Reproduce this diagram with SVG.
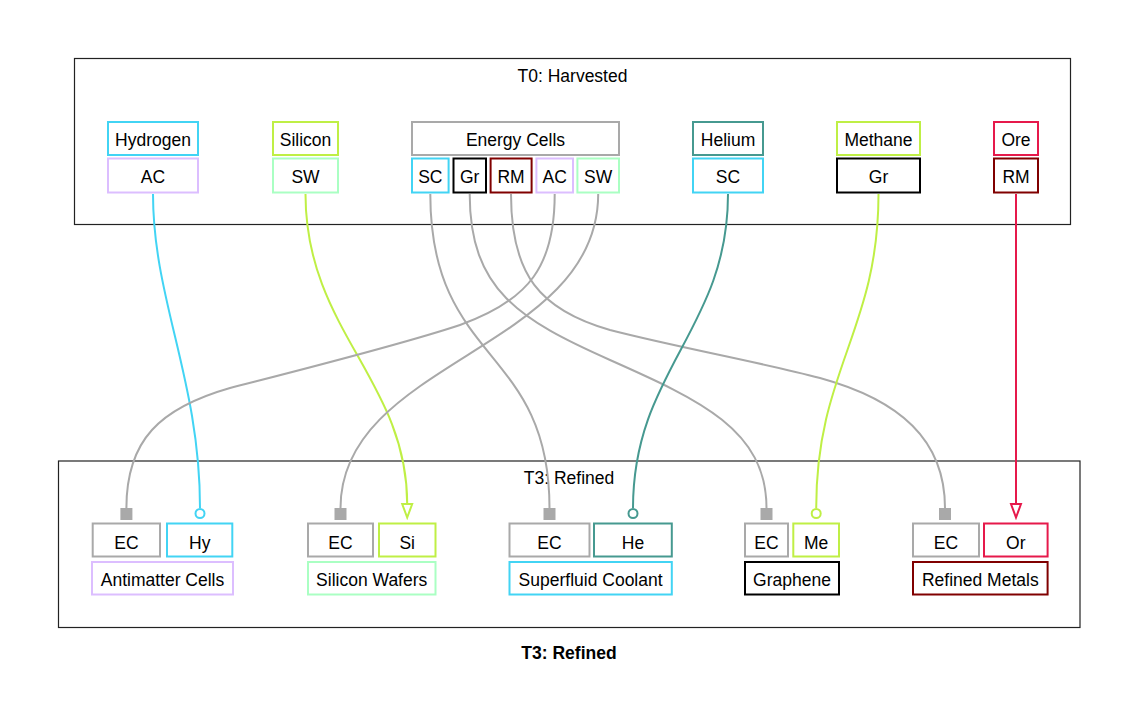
<svg xmlns="http://www.w3.org/2000/svg" width="1139" height="717" viewBox="0 0 1139 717">
<style>
text{font-family:"Liberation Sans",Arial,sans-serif;font-size:17.5px;fill:#000;text-anchor:middle}
.b{fill:#fff;stroke-width:2}
.cl{fill:none;stroke:#222;stroke-width:1.2}
.e{fill:none;stroke-width:2}
.cy{stroke:#42d4f4}.lv{stroke:#dcbeff}.lm{stroke:#bfef45}.mn{stroke:#aaffc3}.gy{stroke:#a9a9a9}.bk{stroke:#000}.mr{stroke:#800000}.tl{stroke:#469990}.rd{stroke:#e6194b}
.title{font-weight:bold}
</style>
<defs>
<marker id="sq" markerUnits="userSpaceOnUse" orient="auto" viewBox="0 -7 14 14" refX="0" refY="0" markerWidth="14" markerHeight="14"><rect x="1" y="-5" width="10" height="10" fill="#a9a9a9" stroke="#a9a9a9" stroke-width="2"/></marker>
<marker id="ci-cy" markerUnits="userSpaceOnUse" orient="auto" viewBox="0 -7 14 14" refX="0" refY="0" markerWidth="14" markerHeight="14"><circle cx="5.5" cy="0" r="4.5" fill="#fff" stroke="#42d4f4" stroke-width="2"/></marker>
<marker id="ci-tl" markerUnits="userSpaceOnUse" orient="auto" viewBox="0 -7 14 14" refX="0" refY="0" markerWidth="14" markerHeight="14"><circle cx="5.5" cy="0" r="4.5" fill="#fff" stroke="#469990" stroke-width="2"/></marker>
<marker id="ci-lm" markerUnits="userSpaceOnUse" orient="auto" viewBox="0 -7 14 14" refX="0" refY="0" markerWidth="14" markerHeight="14"><circle cx="5.5" cy="0" r="4.5" fill="#fff" stroke="#bfef45" stroke-width="2"/></marker>
<marker id="tr-lm" markerUnits="userSpaceOnUse" orient="auto" viewBox="-2 -8 18 16" refX="0" refY="0" markerWidth="18" markerHeight="16"><polygon points="0,-5 13.5,0 0,5" fill="#fff" stroke="#bfef45" stroke-width="2"/></marker>
<marker id="tr-rd" markerUnits="userSpaceOnUse" orient="auto" viewBox="-2 -8 18 16" refX="0" refY="0" markerWidth="18" markerHeight="16"><polygon points="0,-5 13.5,0 0,5" fill="#fff" stroke="#e6194b" stroke-width="2"/></marker>
</defs>
<rect width="1139" height="717" fill="#fff"/>

<g id="cluster-t0">
<rect class="cl" x="74.5" y="58.5" width="996" height="166"/>
<text x="572.5" y="81.5">T0: Harvested</text>
</g>
<g id="cluster-t3">
<rect class="cl" x="58.5" y="461" width="1021.5" height="166.5"/>
<text x="569" y="484">T3: Refined</text>
</g>

<g id="node-hydrogen">
<rect class="b cy" x="108" y="122" width="90" height="33"/><text x="153" y="146">Hydrogen</text>
<rect class="b lv" x="108" y="158.5" width="90" height="34"/><text x="153" y="182.5">AC</text>
</g>
<g id="node-silicon">
<rect class="b lm" x="273" y="122" width="65" height="33"/><text x="305.5" y="146">Silicon</text>
<rect class="b mn" x="273" y="158.5" width="65" height="34"/><text x="305.5" y="182.5">SW</text>
</g>
<g id="node-energy-cells">
<rect class="b gy" x="412" y="122" width="207" height="33"/><text x="515.5" y="146">Energy Cells</text>
<rect class="b cy" x="412" y="158.5" width="36.6" height="34"/><text x="430.3" y="182.5">SC</text>
<rect class="b bk" x="453.5" y="158.5" width="32.5" height="34"/><text x="469.7" y="182.5">Gr</text>
<rect class="b mr" x="490.6" y="158.5" width="41" height="34"/><text x="511" y="182.5">RM</text>
<rect class="b lv" x="536.4" y="158.5" width="36.6" height="34"/><text x="554.7" y="182.5">AC</text>
<rect class="b mn" x="577.4" y="158.5" width="41.6" height="34"/><text x="598.2" y="182.5">SW</text>
</g>
<g id="node-helium">
<rect class="b tl" x="693" y="122" width="70" height="33"/><text x="728" y="146">Helium</text>
<rect class="b cy" x="693" y="158.5" width="70" height="34"/><text x="728" y="182.5">SC</text>
</g>
<g id="node-methane">
<rect class="b lm" x="837" y="122" width="83" height="33"/><text x="878.5" y="146">Methane</text>
<rect class="b bk" x="837" y="158.5" width="83" height="34"/><text x="878.5" y="182.5">Gr</text>
</g>
<g id="node-ore">
<rect class="b rd" x="994" y="122" width="44" height="33"/><text x="1016" y="146">Ore</text>
<rect class="b mr" x="994" y="158.5" width="44" height="34"/><text x="1016" y="182.5">RM</text>
</g>

<g id="node-antimatter-cells">
<rect class="b gy" x="92.7" y="523.5" width="67.3" height="33"/><text x="126.4" y="549">EC</text>
<rect class="b cy" x="167" y="523.5" width="65.3" height="33"/><text x="199.7" y="549">Hy</text>
<rect class="b lv" x="92" y="562" width="141" height="32.5"/><text x="162.5" y="585.5">Antimatter Cells</text>
</g>
<g id="node-silicon-wafers">
<rect class="b gy" x="308" y="523.5" width="65" height="33"/><text x="340.5" y="549">EC</text>
<rect class="b lm" x="379" y="523.5" width="56.5" height="33"/><text x="407.2" y="549">Si</text>
<rect class="b mn" x="308" y="562" width="127.5" height="32.5"/><text x="371.7" y="585.5">Silicon Wafers</text>
</g>
<g id="node-superfluid-coolant">
<rect class="b gy" x="509.5" y="523.5" width="80" height="33"/><text x="549.5" y="549">EC</text>
<rect class="b tl" x="594" y="523.5" width="77.8" height="33"/><text x="633" y="549">He</text>
<rect class="b cy" x="509.5" y="562" width="162.3" height="32.5"/><text x="590.6" y="585.5">Superfluid Coolant</text>
</g>
<g id="node-graphene">
<rect class="b gy" x="745" y="523.5" width="43" height="33"/><text x="766.5" y="549">EC</text>
<rect class="b lm" x="793.3" y="523.5" width="45.7" height="33"/><text x="816.2" y="549">Me</text>
<rect class="b bk" x="745" y="562" width="94" height="32.5"/><text x="792" y="585.5">Graphene</text>
</g>
<g id="node-refined-metals">
<rect class="b gy" x="913" y="523.5" width="66" height="33"/><text x="946" y="549">EC</text>
<rect class="b rd" x="984" y="523.5" width="63.6" height="33"/><text x="1015.8" y="549">Or</text>
<rect class="b mr" x="913" y="562" width="134.6" height="32.5"/><text x="980.3" y="585.5">Refined Metals</text>
</g>

<g id="connectors">
<path class="e cy" d="M153,194 C153,300 200,380 200,508" marker-end="url(#ci-cy)"/>
<path class="e lm" d="M305.5,194 C305.5,330 407.2,380 407.2,504" marker-end="url(#tr-lm)"/>
<path class="e gy" d="M430.3,194 C430.3,365 549.5,345 549.5,508" marker-end="url(#sq)"/>
<path class="e gy" d="M469.7,194 C469.7,290 520,320 610,360 C700,400 766.5,430 766.5,508" marker-end="url(#sq)"/>
<path class="e gy" d="M511,194 C511,275 540,310 610,330 C680,348 760,362 820,378 C900,400 945,440 945,508" marker-end="url(#sq)"/>
<path class="e gy" d="M554.7,194 C554.7,265 530,300 460,325 C400,345 300,370 230,388 C160,408 126.4,440 126.4,508" marker-end="url(#sq)"/>
<path class="e gy" d="M598.2,194 C598.2,350 340.5,360 340.5,508" marker-end="url(#sq)"/>
<path class="e tl" d="M728,194 C728,330 633,370 633,508" marker-end="url(#ci-tl)"/>
<path class="e lm" d="M878.5,194 C878.5,330 816.2,370 816.2,508" marker-end="url(#ci-lm)"/>
<path class="e rd" d="M1016,194 L1016,504" marker-end="url(#tr-rd)"/>
</g>

<text class="title" x="569" y="659">T3: Refined</text>
</svg>
